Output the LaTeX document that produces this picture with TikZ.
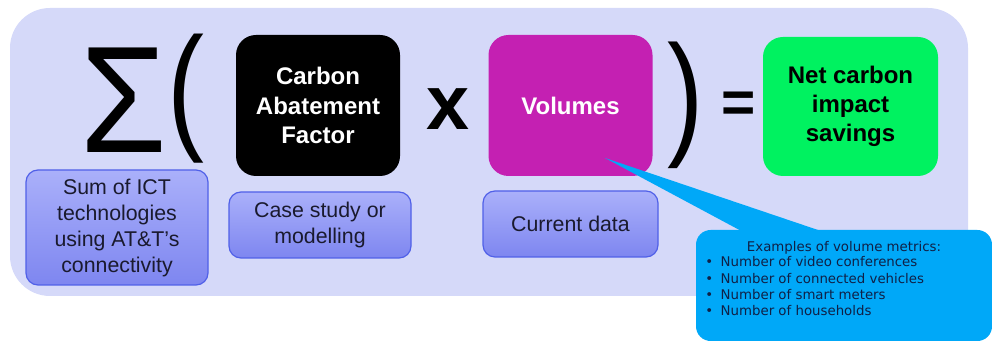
\documentclass[tikz,border=0pt]{standalone}
\usepackage{fontspec}
\setmainfont{Liberation Sans}
\newfontfamily\calloutfont{DejaVu Sans}
\usetikzlibrary{positioning}
\definecolor{panelbg}{RGB}{213,217,249}
\definecolor{volmagenta}{RGB}{196,32,178}
\definecolor{netgreen}{RGB}{0,242,96}
\definecolor{subtop}{RGB}{170,176,250}
\definecolor{subbot}{RGB}{126,134,240}
\definecolor{subedge}{RGB}{80,96,232}
\definecolor{calloutblue}{RGB}{0,168,248}
\definecolor{callouttext}{RGB}{16,32,70}
\definecolor{subtext}{RGB}{26,26,46}

\begin{document}
\begin{tikzpicture}[x=0.75pt, y=-0.75pt,
  term/.style={rounded corners=15pt, minimum width=123pt, minimum height=105.75pt, align=center, inner sep=0pt, font=\fontsize{18}{22}\selectfont\bfseries},
  sub/.style={draw=subedge, line width=0.9pt, rounded corners=9pt, top color=subtop, bottom color=subbot, align=center, inner sep=0pt, text=subtext, font=\fontsize{16}{19.5}\selectfont},
  glyph/.style={inner sep=0pt, text=black},
  callout box/.style={fill=calloutblue, rounded corners=11pt, minimum width=222pt, minimum height=83.25pt, inner sep=0pt},
  callout txt/.style={inner sep=0pt, text=callouttext, font=\calloutfont\fontsize{10}{12.2}\selectfont},
]
\useasboundingbox (0,0) rectangle (992,341);

% Background panel
\node[fill=panelbg, rounded corners=30pt, minimum width=718.5pt, minimum height=216pt, inner sep=0pt] (panel) at (489,152) {};

% Formula glyphs
\node[glyph, font=\fontsize{114}{114}\selectfont, text height=81.6pt, text depth=0pt] (sigma) at (123.5,98) {\scalebox{0.92}[1]{Σ}};
\node[glyph, font=\fontsize{104}{104}\selectfont] (lparen) at (186,99) {\scalebox{0.8}[1]{(}};
\node[glyph, font=\fontsize{58}{58}\selectfont\bfseries] (times) at (448,109) {x};
\node[glyph, font=\fontsize{102}{102}\selectfont] (rparen) at (686,105) {\scalebox{0.8}[1]{)}};
\node[glyph, font=\fontsize{44}{44}\selectfont\bfseries] (equals) at (738.5,107) {=};

% Terms
\node[term, fill=black, text=white] (caf) at (318,105.5) {Carbon\\Abatement\\Factor};
\node[term, fill=volmagenta, text=white] (vol) at (570.5,105.5) {Volumes};
\node[term, fill=netgreen, text=black, minimum width=131.25pt, minimum height=104.25pt] (net) at (850.5,106.5) {Net carbon\\impact\\savings};

% Explanations
\node[sub, minimum width=136.5pt, minimum height=86.25pt] (sumict) at (117,227.5) {Sum of ICT\\technologies\\using AT\&T’s\\connectivity};
\node[sub, minimum width=136.5pt, minimum height=49.5pt] (casest) at (320,225) {Case study or\\modelling};
\node[sub, minimum width=131.25pt, minimum height=49.5pt] (curdat) at (570.5,224) {Current data};

% Callout
\node[callout box] (callout) at (844,285.5) {};
\coordinate (tip) at (605,158);
\fill[calloutblue] (tip) -- ([xshift=38pt, yshift=-3pt]callout.north west) -- ([xshift=100pt, yshift=-3pt]callout.north west) -- cycle;
\node[callout txt, below=8.5pt of callout.north] (ctitle) {Examples of volume metrics:};
\node[callout txt, align=left, below right=20pt and 7pt of callout.north west] (clist) {\makebox[11.5pt][l]{•}Number of video conferences\\
  \makebox[11.5pt][l]{•}Number of connected vehicles\\
  \makebox[11.5pt][l]{•}Number of smart meters\\
  \makebox[11.5pt][l]{•}Number of households};

\end{tikzpicture}
\end{document}
